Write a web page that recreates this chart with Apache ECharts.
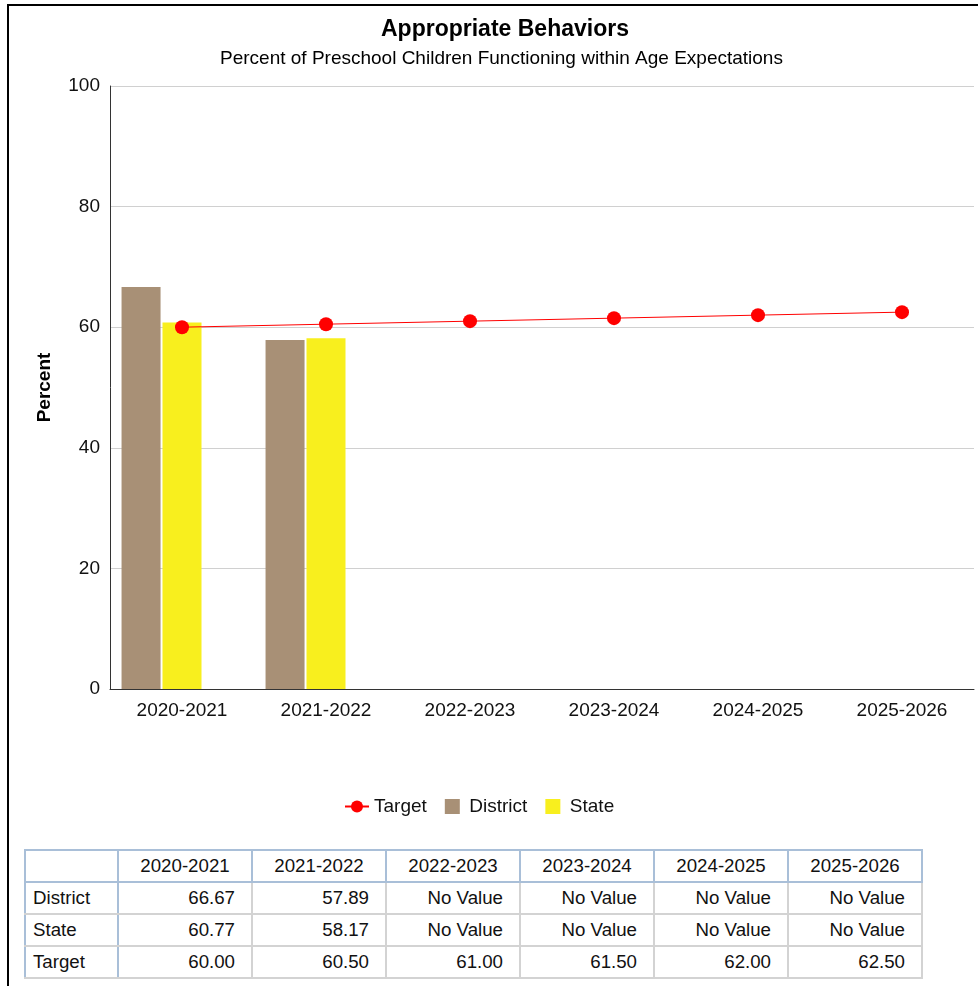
<!DOCTYPE html>
<html>
<head>
<meta charset="utf-8">
<script src="https://cdn.jsdelivr.net/npm/echarts@6/dist/echarts.min.js"></script>
<style>
  html, body { margin: 0; padding: 0; background: #fff; }
  body { width: 978px; height: 986px; position: relative; overflow: hidden; font-family: "Liberation Sans", Arial, sans-serif; }
  #frame { position: absolute; left: 7px; top: 4px; width: 990px; height: 1000px; border-left: 2px solid #000; border-top: 2px solid #000; box-sizing: border-box; }
  #chart { position: absolute; left: 0; top: 0; width: 978px; height: 840px; }
  #tbl { position: absolute; left: 24px; top: 849px; border-collapse: collapse; font-size: 18.7px; color: #111; }
  #tbl td { height: 32px; border: 2px solid #d3d3d3; padding: 0 16px 0 7px; box-sizing: border-box; }
  #tbl td.num { text-align: right; width: 134px; }
  #tbl tr.head td { text-align: center; border-color: #a9bfd8; padding: 0; }
  #tbl td.rowh { border-left-color: #a9bfd8; border-right-color: #a9bfd8; width: 93px; }
</style>
</head>
<body>
<div id="frame"></div>
<div id="chart"></div>
<table id="tbl"></table>
<script>
const categories = ['2020-2021', '2021-2022', '2022-2023', '2023-2024', '2024-2025', '2025-2026'];
const districtValues = [66.67, 57.89, null, null, null, null];
const stateValues = [60.77, 58.17, null, null, null, null];
const targetValues = [60.00, 60.50, 61.00, 61.50, 62.00, 62.50];
const yTicks = [0, 20, 40, 60, 80, 100];

const chart = echarts.init(document.getElementById('chart'), null, { renderer: 'canvas' });
const font = '"Liberation Sans", Arial, sans-serif';
chart.setOption({
  animation: false,
  textStyle: { fontFamily: font },
  title: [
    { text: 'Appropriate Behaviors', left: 376, top: 13, textStyle: { fontSize: 23, fontWeight: 'bold', color: '#000', fontFamily: font } },
    { text: 'Percent of Preschool Children Functioning within Age Expectations', left: 215, top: 44, textStyle: { fontSize: 19, fontWeight: 'normal', color: '#000', fontFamily: font } }
  ],
  legend: {
    top: 792,
    left: 339,
    itemGap: 18,
    itemWidth: 24,
    itemHeight: 15,
    textStyle: { fontSize: 19, color: '#111', fontFamily: font },
    data: [
      { name: 'Target' },
      { name: 'District', icon: 'path://M0,0h15v15h-15z' },
      { name: 'State', icon: 'path://M0,0h15v15h-15z' }
    ]
  },
  grid: { left: 110, right: 4, top: 86, bottom: 840 - 689, containLabel: false },
  xAxis: {
    type: 'category',
    data: categories,
    axisLine: { lineStyle: { color: '#333', width: 1 } },
    axisTick: { show: false },
    axisLabel: { fontSize: 19, color: '#111', margin: 12, fontFamily: font }
  },
  yAxis: {
    type: 'value',
    min: yTicks[0],
    max: yTicks[yTicks.length - 1],
    interval: 20,
    name: 'Percent',
    nameLocation: 'middle',
    nameGap: 56,
    nameRotate: 90,
    nameTextStyle: { fontSize: 19, fontWeight: 'bold', color: '#000', fontFamily: font },
    axisLine: { show: true, lineStyle: { color: '#333', width: 1 } },
    axisTick: { show: false },
    axisLabel: { fontSize: 19, color: '#111', margin: 10, fontFamily: font },
    splitLine: { lineStyle: { color: '#d0d0d0', width: 1 } }
  },
  series: [
    {
      name: 'District', type: 'bar', data: districtValues,
      barWidth: 39, barGap: '5%',
      itemStyle: { color: '#a89076' }
    },
    {
      name: 'State', type: 'bar', data: stateValues,
      barWidth: 39, barGap: '5%',
      itemStyle: { color: '#f8ef1e' }
    },
    {
      name: 'TargetSlot', type: 'bar', data: categories.map(() => null),
      barWidth: 39, barGap: '5%', silent: true
    },
    {
      name: 'Target', type: 'line', data: targetValues,
      symbol: 'circle', symbolSize: 14,
      lineStyle: { color: '#ff0000', width: 1 },
      itemStyle: { color: '#ff0000' },
      z: 5
    }
  ]
});

// Data table
const tbl = document.getElementById('tbl');
function fmt(v) { return v == null ? 'No Value' : v.toFixed(2); }
let html = '<tr class="head"><td class="rowh"></td>' + categories.map(c => '<td class="num">' + c + '</td>').join('') + '</tr>';
const rows = [['District', districtValues], ['State', stateValues], ['Target', targetValues]];
rows.forEach(r => {
  html += '<tr><td class="rowh">' + r[0] + '</td>' + r[1].map(v => '<td class="num">' + fmt(v) + '</td>').join('') + '</tr>';
});
tbl.innerHTML = html;
</script>
</body>
</html>
